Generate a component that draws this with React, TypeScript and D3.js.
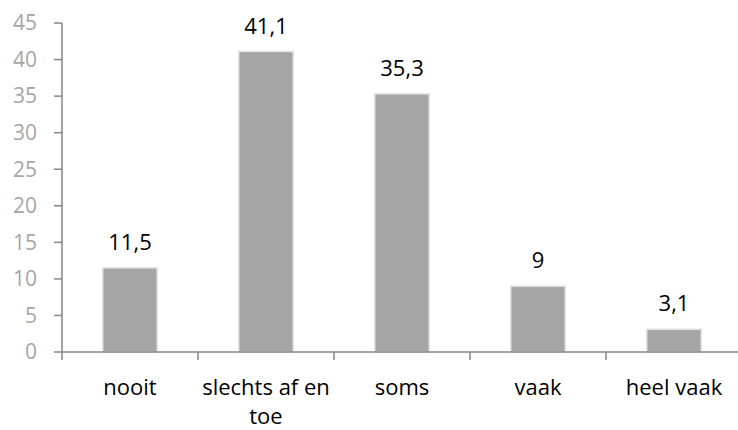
import React from "react";
import * as d3 from "d3";

const categories = ["nooit", "slechts af en toe", "soms", "vaak", "heel vaak"];
const values = [11.5, 41.1, 35.3, 9, 3.1];
const valueLabels = ["11,5", "41,1", "35,3", "9", "3,1"];
const yTicks = [0, 5, 10, 15, 20, 25, 30, 35, 40, 45];
const xLabelLines = [["nooit"], ["slechts af en", "toe"], ["soms"], ["vaak"], ["heel vaak"]];

const W = 738;
const H = 430;
const FONT = "'Open Sans', sans-serif";

export default function App() {
  const x = d3.scaleBand<string>().domain(categories).range([62, 742]).paddingInner(0).paddingOuter(0);
  const y = d3.scaleLinear().domain([0, 45]).range([352, 23]);
  const barW = x.bandwidth() * 0.4;
  const x0 = 62;
  const y0 = y(0);
  return (
    <svg width={W} height={H} style={{ position: "absolute", left: 0, top: 0, background: "#fff" }}>
      {categories.map((c, i) => {
        const cx = (x(c) as number) + x.bandwidth() / 2;
        return (
          <rect
            key={c}
            x={cx - barW / 2}
            y={y(values[i])}
            width={barW}
            height={y0 - y(values[i])}
            fill="#a5a5a5"
            stroke="#e0e0e0"
            strokeWidth={1.5}
          />
        );
      })}
      <line x1={x0} x2={x0} y1={y(45)} y2={y0} stroke="#868686" strokeWidth={1.5} />
      {yTicks.map((t) => (
        <g key={t}>
          <line x1={x0 - 8} x2={x0} y1={y(t)} y2={y(t)} stroke="#868686" strokeWidth={1.5} />
          <text x={37} y={y(t)} dy="0.35em" textAnchor="end" fontFamily={FONT} fontSize={21} fill="#a6a6a6">
            {t}
          </text>
        </g>
      ))}
      <line x1={x0} x2={742} y1={y0} y2={y0} stroke="#868686" strokeWidth={1.5} />
      {x.domain().map((c) => (
        <line key={c} x1={x(c) as number} x2={x(c) as number} y1={y0} y2={y0 + 8} stroke="#868686" strokeWidth={1.5} />
      ))}
      {categories.map((c, i) => {
        const cx = (x(c) as number) + x.bandwidth() / 2;
        return (
          <text key={c} textAnchor="middle" fontFamily={FONT} fontSize={22} fill="#000">
            {xLabelLines[i].map((l, j) => (
              <tspan key={j} x={cx} y={395 + j * 29}>
                {l}
              </tspan>
            ))}
          </text>
        );
      })}
      {categories.map((c, i) => {
        const cx = (x(c) as number) + x.bandwidth() / 2;
        return (
          <text key={c} x={cx} y={y(values[i]) - 18} textAnchor="middle" fontFamily={FONT} fontSize={22} fill="#000">
            {valueLabels[i]}
          </text>
        );
      })}
    </svg>
  );
}
